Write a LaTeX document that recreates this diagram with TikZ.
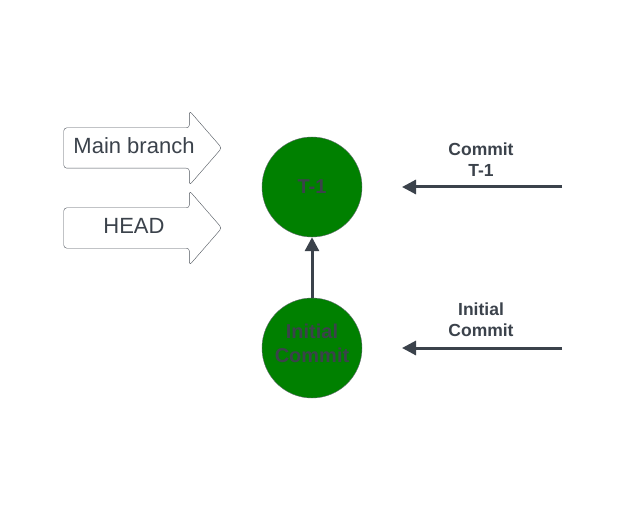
\documentclass[tikz,border=0pt]{standalone}
\usepackage{fontspec}
\setmainfont{Liberation Sans}
\usetikzlibrary{arrows.meta,shapes.arrows}

\definecolor{commitgreen}{RGB}{0,128,0}
\definecolor{inkgray}{RGB}{59,66,75}

\begin{document}
\begin{tikzpicture}[x=1pt,y=-1pt,
  commit/.style={circle, draw=inkgray!80, fill=commitgreen, minimum size=100pt,
    inner sep=0pt, text=inkgray, align=center, font=\fontsize{20}{24}\selectfont\bfseries},
  pointer/.style={single arrow, draw=inkgray!90, fill=white, text=inkgray,
    rounded corners=3pt, minimum height=158pt, minimum width=74pt,
    single arrow head extend=17pt, single arrow tip angle=98,
    text height=15pt, text depth=4pt, inner xsep=4pt, inner ysep=10.5pt,
    font=\fontsize{22}{26}\selectfont},
  link/.style={draw=inkgray, line width=3pt, -{Triangle[length=14pt,width=14pt]}},
  tag/.style={text=inkgray, align=center, font=\fontsize{17.5}{21}\selectfont\bfseries}]

\useasboundingbox (0,0) rectangle (644,521);

% commits
\node [commit] (t1) at (312,187) {T-1};
\node [commit, text depth=10pt] (init) at (312,348) {Initial\\Commit};
\draw [link] (init) -- (t1);

% branch pointers
\node [pointer] (main) at (134,148) {Main branch};
\node [pointer] (head) at (134,228) {HEAD};

% labels on the right
\coordinate (t1from) at (562,187);
\coordinate (t1to) at (402,187);
\coordinate (initfrom) at (562,348);
\coordinate (initto) at (402,348);
\draw [link] (t1from) -- (t1to);
\draw [link] (initfrom) -- (initto);
\node [tag] (t1lbl) at (481,160) {Commit\\T-1};
\node [tag] (initlbl) at (481,320) {Initial\\Commit};

\end{tikzpicture}
\end{document}
